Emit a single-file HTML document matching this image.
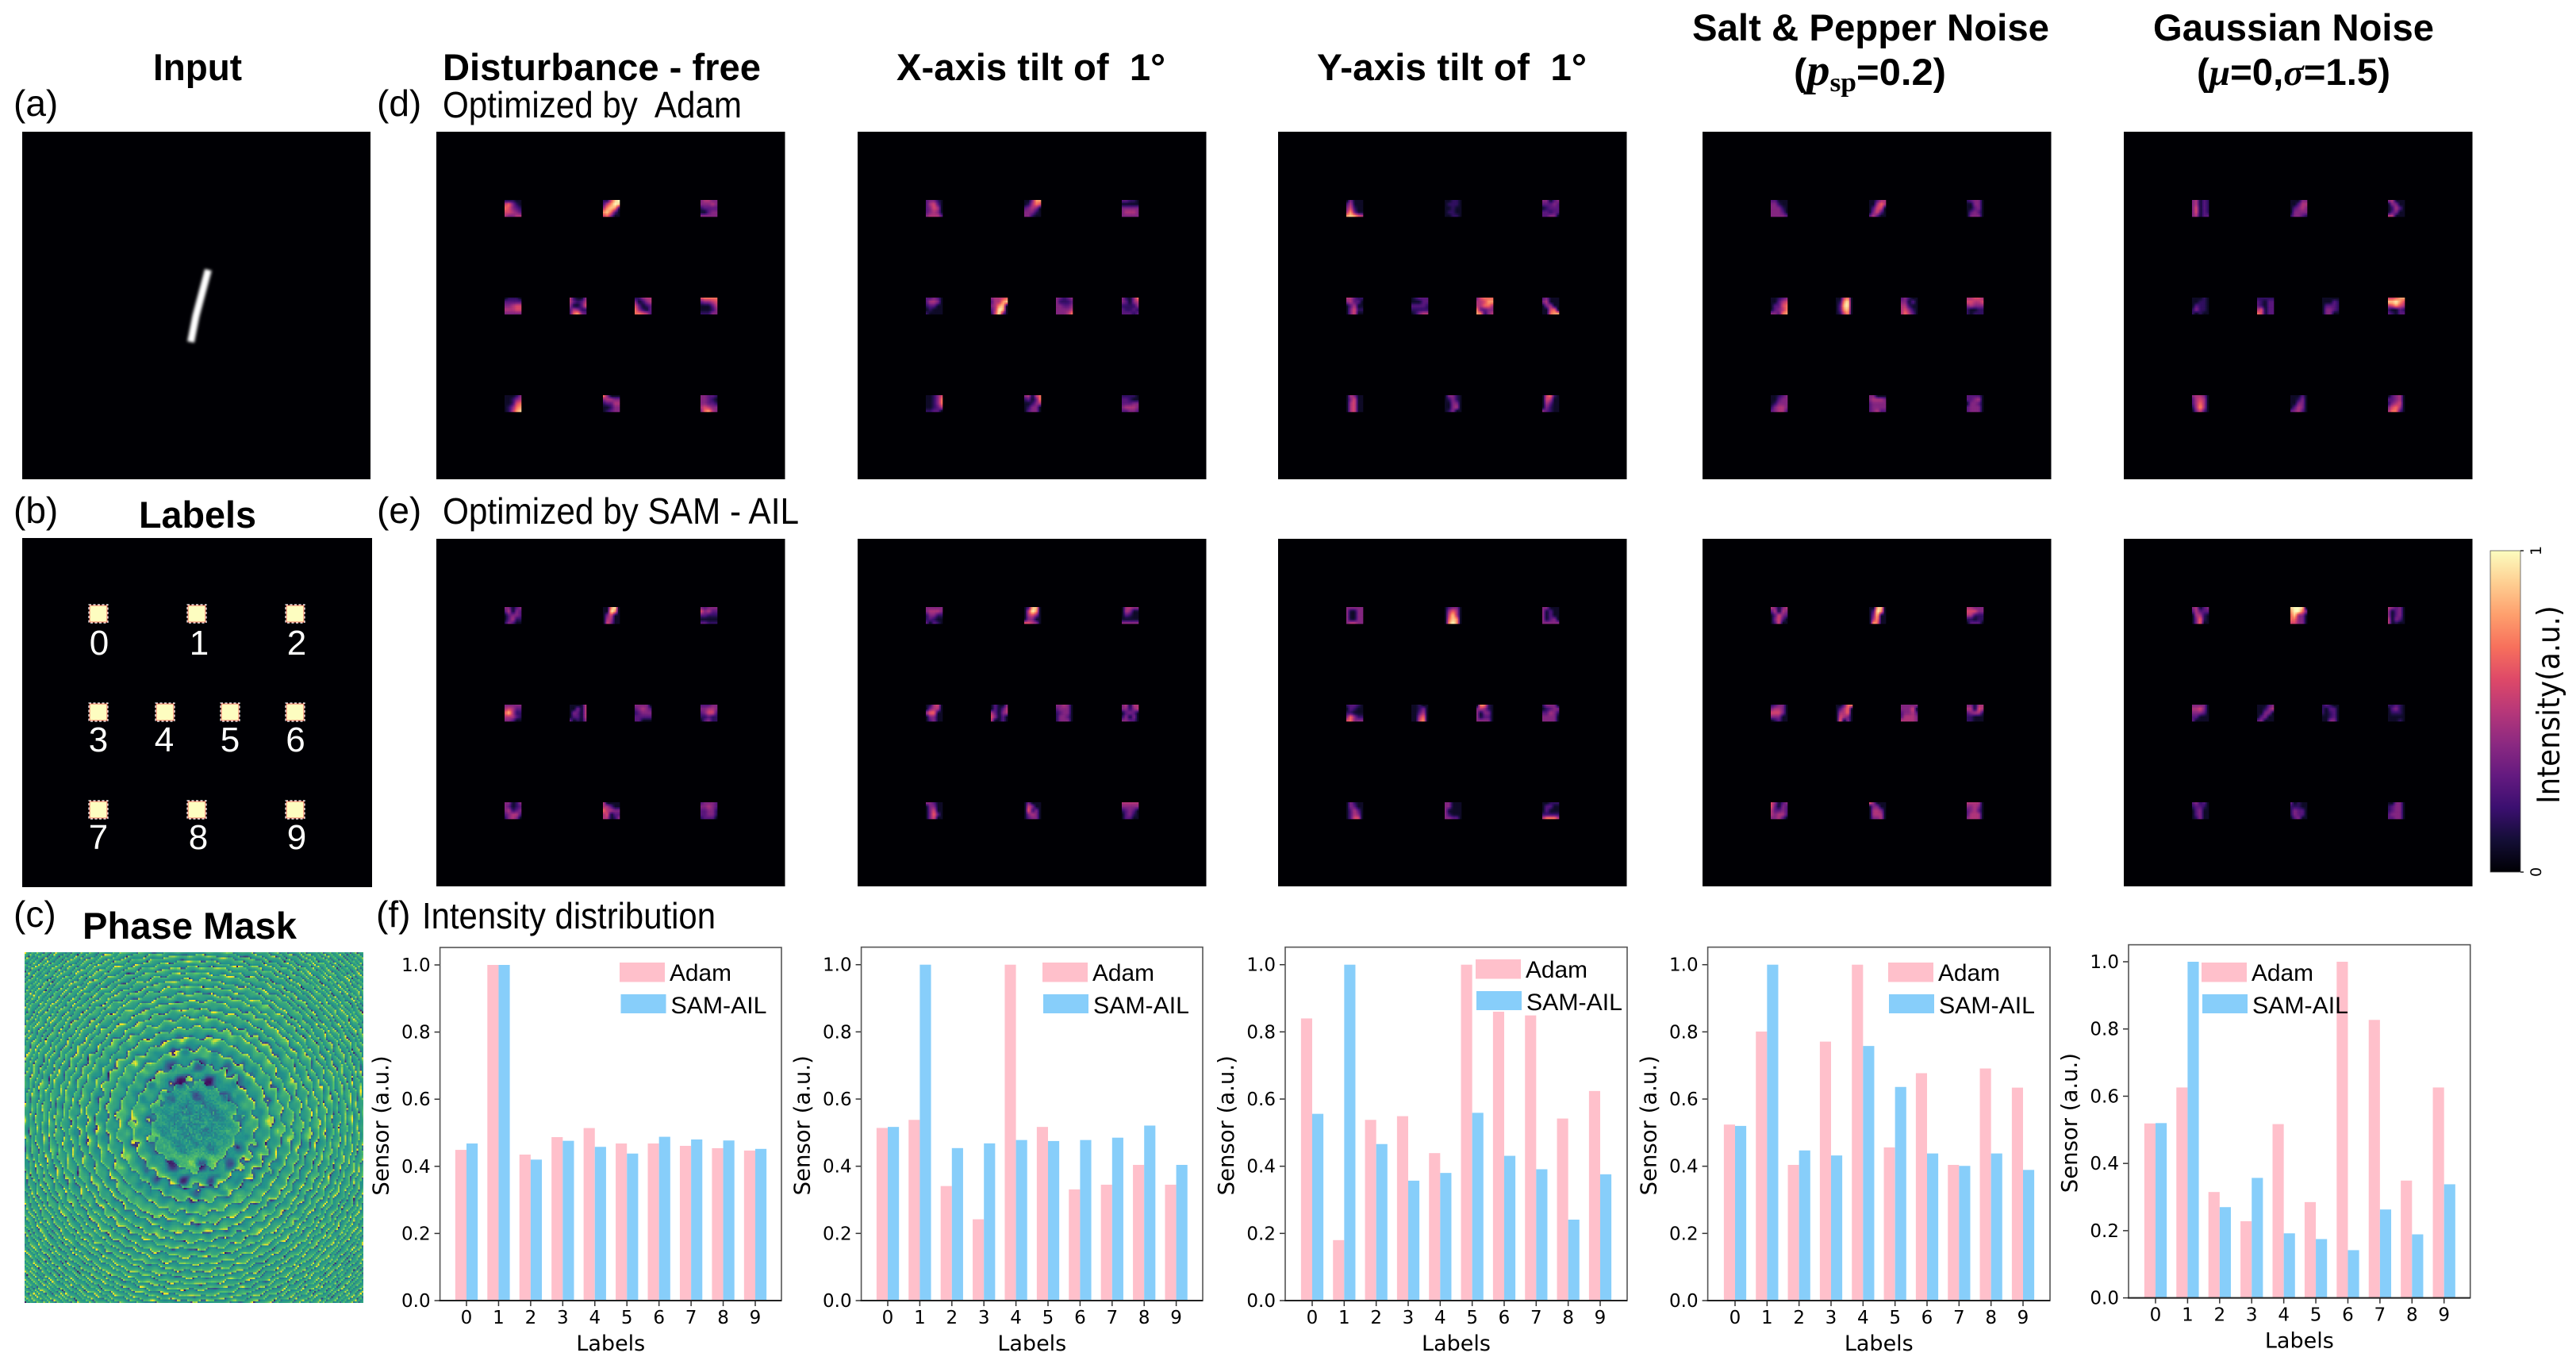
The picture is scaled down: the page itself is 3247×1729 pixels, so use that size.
<!DOCTYPE html>
<html lang="en">
<head>
<meta charset="utf-8">
<title>Intensity distribution under disturbances</title>
<style>
html,body{margin:0;padding:0;background:#fff;width:3247px;height:1729px;overflow:hidden}
#figure{position:absolute;left:0;top:0}
#phase-canvas{position:absolute;left:31px;top:1200px;width:427px;height:442px;image-rendering:pixelated}
text{font-family:"Liberation Sans",sans-serif;fill:#000}
.title{font-weight:bold;font-size:47px}
.sub{font-size:46px}
.dv{font-family:"DejaVu Sans",sans-serif}
.math{font-family:"Liberation Serif",serif;font-style:italic}
</style>
</head>
<body>
<svg id="figure" xmlns="http://www.w3.org/2000/svg" width="3247" height="1729" viewBox="0 0 3247 1729">
  <defs>
    <filter id="soft" x="-60%" y="-20%" width="220%" height="140%"><feGaussianBlur stdDeviation="1.8"/></filter>
    <linearGradient id="magma-gradient" x1="0" y1="1" x2="0" y2="0"></linearGradient>
  </defs>

  <text class="title" x="193" y="101" textLength="112" lengthAdjust="spacingAndGlyphs">Input</text>
  <text class="title" x="558" y="101" textLength="401" lengthAdjust="spacingAndGlyphs">Disturbance - free</text>
  <text class="title" x="1130" y="101" textLength="339" lengthAdjust="spacingAndGlyphs" xml:space="preserve">X-axis tilt of  1°</text>
  <text class="title" x="1660" y="101" textLength="340" lengthAdjust="spacingAndGlyphs" xml:space="preserve">Y-axis tilt of  1°</text>
  <text class="title" x="2133" y="51" textLength="450" lengthAdjust="spacingAndGlyphs">Salt &amp; Pepper Noise</text>
  <text class="title" x="2261" y="107" textLength="192" lengthAdjust="spacingAndGlyphs">(<tspan class="math" font-size="56">p</tspan><tspan class="math" style="font-style:normal" font-size="34" dy="8">sp</tspan><tspan dy="-8">=0.2)</tspan></text>
  <text class="title" x="2714" y="51" textLength="354" lengthAdjust="spacingAndGlyphs">Gaussian Noise</text>
  <text class="title" x="2769" y="107" textLength="244" lengthAdjust="spacingAndGlyphs">(<tspan class="math">μ</tspan>=0,<tspan class="math">σ</tspan>=1.5)</text>

  <text class="sub" x="17" y="146">(a)</text>
  <text class="sub" x="475" y="146">(d)</text>
  <text class="sub" x="558" y="148" textLength="377" lengthAdjust="spacingAndGlyphs" xml:space="preserve">Optimized by  Adam</text>
  <text class="sub" x="17" y="659">(b)</text>
  <text class="title" x="175" y="665" textLength="148" lengthAdjust="spacingAndGlyphs">Labels</text>
  <text class="sub" x="475" y="659">(e)</text>
  <text class="sub" x="558" y="660" textLength="449" lengthAdjust="spacingAndGlyphs">Optimized by SAM - AIL</text>
  <text class="sub" x="17" y="1168">(c)</text>
  <text class="title" x="104" y="1183" textLength="270" lengthAdjust="spacingAndGlyphs">Phase Mask</text>
  <text class="sub" x="474" y="1168">(f)</text>
  <text class="sub" x="532" y="1170" textLength="370" lengthAdjust="spacingAndGlyphs">Intensity distribution</text>

  <g>
    <rect x="28" y="166" width="439" height="438" fill="#000004"/>
    <path d="M262.5 340 L247 398 L240.5 431" fill="none" stroke="#fff" stroke-width="9" stroke-linecap="butt" stroke-linejoin="round" filter="url(#soft)"/>
  </g>

  <g id="labels-panel">
    <rect x="28" y="678" width="441" height="440" fill="#000004"/>
  </g>

  <g id="heatmaps"></g>
  <g id="charts"></g>

  <g>
    <rect x="3139" y="694" width="38" height="405" fill="url(#magma-gradient)" stroke="#555" stroke-width="0.8"/>
    <line x1="3177" y1="694" x2="3181" y2="694" stroke="#222" stroke-width="1.5"/>
    <line x1="3177" y1="1099" x2="3181" y2="1099" stroke="#222" stroke-width="1.5"/>
    <text class="dv" transform="translate(3203 694) rotate(-90)" text-anchor="middle" font-size="19">1</text>
    <text class="dv" transform="translate(3203 1099) rotate(-90)" text-anchor="middle" font-size="19">0</text>
    <text class="dv" transform="translate(3226 888) rotate(-90) scale(1 1.1)" text-anchor="middle" font-size="35.6">Intensity(a.u.)</text>
  </g>
</svg>
<canvas id="phase-canvas" width="200" height="207"></canvas>

<script>
/* ---------- bar chart data ---------- */
const categories = ['0','1','2','3','4','5','6','7','8','9'];
const yTickValues = [0, 0.2, 0.4, 0.6, 0.8, 1.0];
const yTickLabels = ['0.0','0.2','0.4','0.6','0.8','1.0'];
const seriesNames = ['Adam','SAM-AIL'];

const adamFree  = [0.449,1.000,0.435,0.487,0.514,0.468,0.468,0.461,0.454,0.447];
const samFree   = [0.468,1.000,0.420,0.476,0.458,0.438,0.488,0.480,0.477,0.452];
const adamXTilt = [0.514,0.538,0.341,0.242,1.000,0.517,0.331,0.345,0.404,0.345];
const samXTilt  = [0.517,1.000,0.454,0.468,0.478,0.475,0.478,0.485,0.521,0.404];
const adamYTilt = [0.840,0.180,0.538,0.549,0.439,1.000,0.860,0.849,0.542,0.624];
const samYTilt  = [0.556,1.000,0.466,0.357,0.380,0.559,0.431,0.391,0.241,0.376];
const adamSalt  = [0.524,0.801,0.404,0.771,1.000,0.456,0.677,0.404,0.691,0.634];
const samSalt   = [0.520,1.000,0.447,0.432,0.758,0.636,0.438,0.401,0.438,0.389];
const adamGauss = [0.519,0.626,0.315,0.228,0.517,0.285,1.000,0.827,0.349,0.626];
const samGauss  = [0.520,1.000,0.270,0.357,0.192,0.175,0.142,0.263,0.189,0.338];

/* ---------- heatmap data: one 5x5 intensity grid (0-9) per sensor region 0..9 ---------- */
const adamFreeHeat  = ["11100 56310 65321 55432 43344","11589 25798 47871 78620 56300","34433 33343 12222 00233 33333","01110 22222 33455 44455 33333","41003 42124 30025 24311 26732","11344 30134 52012 63102 66542","56666 23345 00024 00013 11133","00013 00134 00156 01367 01478","63000 34433 12244 00133 01233","33221 33210 33221 45433 36743"];
const adamXHeat     = ["23310 24520 23540 23430 34442","00377 01465 23430 33310 33100","22110 00000 33333 34443 33333","22320 24430 12200 01000 10000","34456 24478 34780 24980 15930","32123 31112 33223 33334 33346","31036 32034 11113 21121 22212","00135 00136 00136 00124 11220","34046 12026 00134 01330 02330","11110 22100 22233 34443 22332"];
const adamYHeat     = ["03000 24000 35100 47200 78754","00110 01110 00100 01100 00110","33023 22232 01222 22122 22330","44211 34220 02400 03511 03500","01222 00022 22221 11111 01344","35666 44577 44664 62233 76134","23000 34000 03400 00560 00677","04300 03500 04500 04500 04500","03310 01310 00330 00340 01300","05610 05400 04200 03100 32100"];
const adamSaltHeat  = ["22000 33100 33310 33320 33332","00244 00464 02550 03520 24200","12330 00330 00230 02320 03330","00123 00245 02256 02346 33267","00570 01790 02890 02780 01570","23100 33020 44100 45310 46420","44554 55445 34333 10011 10111","00123 00233 01333 13443 23442","33000 34443 23333 23333 23422","22220 22340 03320 23330 23330"];
const adamGaussHeat = ["34021 34021 35021 35021 34022","00033 00244 02343 03333 13321","34000 03300 01420 02300 44000","00010 00110 02110 13110 10100","11111 21022 21022 45022 65022","00000 00021 02221 03321 03300","55677 88975 45754 10021 21022","34430 24540 24640 14740 03520","00020 00130 00330 02430 23420","02340 22340 13450 35640 46620"];
const samFreeHeat   = ["33023 24032 02332 02411 13200","00790 00970 03500 04400 05300","32333 53422 22111 00000 22111","33333 45422 68411 44421 33200","00004 00304 03204 02204 20103","33330 23432 12333 22222 22000","22233 33443 23552 11211 02311","33013 32012 34123 23442 13430","40000 44200 64433 45022 44013","23332 33432 22331 22331 12220"];
const samXHeat      = ["33333 34443 13311 12100 20210","02880 05970 04530 03300 55430","04433 04300 02100 00000 33333","01450 03440 46600 03300 02300","02003 02024 42034 53020 40020","33430 23330 12330 13320 13330","34044 33134 02320 13030 33220","33200 03300 03500 03620 03500","03000 05300 06130 03430 02330","44444 33333 12320 02310 02200"];
const samYHeat      = ["33333 30033 30033 30033 34433","02330 04640 05840 06870 07970","33000 30200 30200 30230 33333","12210 02100 11000 36311 56333","00100 00130 00240 00460 00570","07610 34310 30330 30220 33330","13330 01233 22431 33330 33330","03100 03200 02420 02430 02550","33000 33000 30000 31000 33220","00111 02200 02000 11111 46664"];
const samSaltHeat   = ["43034 24043 02532 03520 02500","00880 02970 03800 04700 07600","44333 55533 44111 11011 02220","12330 34430 55530 33300 01200","00266 02460 04460 05430 06030","33333 33350 23342 24443 44443","33044 44054 23441 11000 11000","53023 52032 42232 43442 33420","53000 03300 04430 04440 03340","44440 33430 23420 24440 34440"];
const samGaussHeat  = ["34023 24222 04410 03610 03600","89980 79963 68330 66330 55330","43230 30230 30230 40320 40100","33330 44530 33320 22000 20000","00023 00134 00330 02300 23000","12100 10220 10120 00120 00330","11210 02310 01110 00000 00010","23120 12210 02300 02300 01300","20100 11100 13220 13220 02300","00330 12330 12330 23330 22330"];

/* ---------- colour maps ---------- */
const magmaStops = ['#000004','#140e36','#3b0f70','#641a80','#8c2981','#b73779','#de4968','#f7705c','#fe9f6d','#fecf92','#fcfdbf'];
const viridisStops = ['#440154','#3b528b','#21918c','#5ec962','#fde725'];

const NS = 'http://www.w3.org/2000/svg';
function make(tag, attrs, parent, text) {
  const node = document.createElementNS(NS, tag);
  for (const key in attrs) node.setAttribute(key, attrs[key]);
  if (text !== undefined) node.textContent = text;
  parent.appendChild(node);
  return node;
}
function hexToRgb(h) { return [parseInt(h.slice(1,3),16), parseInt(h.slice(3,5),16), parseInt(h.slice(5,7),16)]; }
function ramp(stops, t) {
  t = Math.max(0, Math.min(1, t));
  const p = t * (stops.length - 1), i = Math.min(Math.floor(p), stops.length - 2), f = p - i;
  const a = hexToRgb(stops[i]), b = hexToRgb(stops[i + 1]);
  return [a[0] + (b[0] - a[0]) * f, a[1] + (b[1] - a[1]) * f, a[2] + (b[2] - a[2]) * f].map(Math.round);
}

/* colourbar gradient */
const gradient = document.getElementById('magma-gradient');
magmaStops.forEach(function (color, i) {
  make('stop', { offset: i / (magmaStops.length - 1), 'stop-color': color }, gradient);
});

/* ---------- label panel ---------- */
const labelBoxX = [112, 236, 360, 112, 196, 278, 360, 112, 236, 360];
const labelBoxY = [762, 762, 762, 886, 886, 886, 886, 1009, 1009, 1009];
const labelDigitX = [125, 251, 374, 124, 207, 290, 372.5, 124, 250, 374];
const labelDigitY = [825, 825, 825, 947, 947, 947, 947, 1070, 1070, 1070];
const labelsPanel = document.getElementById('labels-panel');
categories.forEach(function (cat, i) {
  const box = make('rect', { x: labelBoxX[i] + 1, y: labelBoxY[i] + 1, width: 22, height: 21, fill: '#fdfdc0', stroke: '#ef6a5a', 'stroke-width': 1 }, labelsPanel);
  
  
  const dash = make('rect', { x: labelBoxX[i], y: labelBoxY[i], width: 24, height: 23, fill: 'none', stroke: '#fff', 'stroke-width': 1.2, 'stroke-dasharray': '3 2.5' }, labelsPanel);
  
  
  const digit = make('text', { x: labelDigitX[i], y: labelDigitY[i], 'text-anchor': 'middle', 'font-size': 44, style: 'fill:#fff' }, labelsPanel, cat);
  
  
});

/* ---------- heatmaps ---------- */
const panelLefts = [550, 1081, 1611, 2146, 2677];
const panelTops = [166, 679];
const panelNames = ['free', 'x-tilt', 'y-tilt', 'salt-pepper', 'gaussian'];
const rowNames = ['adam', 'sam-ail'];
const heatRows = [
  [adamFreeHeat, adamXHeat, adamYHeat, adamSaltHeat, adamGaussHeat],
  [samFreeHeat, samXHeat, samYHeat, samSaltHeat, samGaussHeat]
];
const regionX = [86, 210, 333, 86, 168, 250, 333, 86, 210, 333];
const regionY = [86, 86, 86, 209, 209, 209, 209, 332, 332, 332];
const REGION = 21, SUB = 10, FLOOR = 0.07;

function sampleGrid(grid, u, v) {
  const gx = u * 4, gy = v * 4;
  const x0 = Math.min(Math.floor(gx), 3), y0 = Math.min(Math.floor(gy), 3);
  const fx = gx - x0, fy = gy - y0;
  const top = grid[y0][x0] * (1 - fx) + grid[y0][x0 + 1] * fx;
  const bot = grid[y0 + 1][x0] * (1 - fx) + grid[y0 + 1][x0 + 1] * fx;
  return (top * (1 - fy) + bot * fy) / 9;
}
const heatRoot = document.getElementById('heatmaps');
heatRows.forEach(function (row, r) {
  row.forEach(function (regions, c) {
    const panel = make('g', {}, heatRoot);
    
    
    const bg = make('rect', { x: panelLefts[c], y: panelTops[r], width: 439.5, height: 438, fill: '#000004' }, panel);
    
    
    regions.forEach(function (src, k) {
      const grid = src.split(' ').map(function (line) { return line.split('').map(Number); });
      const px = panelLefts[c] + regionX[k], py = panelTops[r] + regionY[k], step = REGION / SUB;
      for (let j = 0; j < SUB; j++) {
        for (let i = 0; i < SUB; i++) {
          const val = FLOOR + (1 - FLOOR) * sampleGrid(grid, i / (SUB - 1), j / (SUB - 1));
          const rgb = ramp(magmaStops, val);
          const cell = make('rect', { x: px + i * step, y: py + j * step, width: step + 0.3, height: step + 0.3, fill: 'rgb(' + rgb.join(',') + ')' }, panel);
          
          
        }
      }
    });
  });
});

/* ---------- bar charts ---------- */
const chartAdam = [adamFree, adamXTilt, adamYTilt, adamSalt, adamGauss];
const chartSam = [samFree, samXTilt, samYTilt, samSalt, samGauss];
const frames = [
  { l: 554.6, r: 985, t: 1194, b: 1639, y1: 1216, x0: 588, x9: 952, ax: 781, ay: 1213, sx: 782.5, sy: 1253 },
  { l: 1085.6, r: 1516, t: 1193.6, b: 1639, y1: 1215.7, x0: 1119, x9: 1482.6, ax: 1314, ay: 1213, sx: 1315, sy: 1253 },
  { l: 1620, r: 2051, t: 1193.6, b: 1639, y1: 1215.7, x0: 1654, x9: 2017, ax: 1860, ay: 1209, sx: 1861, sy: 1249 },
  { l: 2152.6, r: 2584, t: 1193.6, b: 1639, y1: 1215.7, x0: 2187, x9: 2550, ax: 2380, ay: 1213, sx: 2381, sy: 1253 },
  { l: 2683, r: 3113.7, t: 1190.6, b: 1635.6, y1: 1212, x0: 2717, x9: 3080.7, ax: 2775, ay: 1213, sx: 2776, sy: 1253 }
];
const chartsRoot = document.getElementById('charts');

frames.forEach(function (f, c) {
  const adam = chartAdam[c], sam = chartSam[c];
  const xScale = function (i) { return f.x0 + i * (f.x9 - f.x0) / 9; };
  const yScale = function (v) { return f.b - v * (f.b - f.y1); };
  const barW = (f.x9 - f.x0) / 9 * 0.35;
  const g = make('g', {}, chartsRoot);
  
  

  categories.forEach(function (cat, i) {
    const a = make('rect', { x: xScale(i) - barW, y: yScale(adam[i]), width: barW, height: f.b - yScale(adam[i]), fill: '#ffc0cb' }, g);
    
    
    const s = make('rect', { x: xScale(i), y: yScale(sam[i]), width: barW, height: f.b - yScale(sam[i]), fill: '#87cefa' }, g);
    
    
    const tick = make('line', { x1: xScale(i), x2: xScale(i), y1: f.b, y2: f.b + 7, stroke: '#333', 'stroke-width': 1.5 }, g);
    
    
    const lab = make('text', { x: xScale(i), y: f.b + 29, 'text-anchor': 'middle', 'font-size': 23, class: 'dv' }, g, cat);
    
    
  });

  yTickValues.forEach(function (v, i) {
    const tick = make('line', { x1: f.l - 7, x2: f.l, y1: yScale(v), y2: yScale(v), stroke: '#333', 'stroke-width': 1.5 }, g);
    
    
    const lab = make('text', { x: f.l - 12, y: yScale(v) + 8, 'text-anchor': 'end', 'font-size': 23, class: 'dv' }, g, yTickLabels[i]);
    
    
  });

  const frame = make('rect', { x: f.l, y: f.t, width: f.r - f.l, height: f.b - f.t, fill: 'none', stroke: '#555', 'stroke-width': 1.6 }, g);
  
  
  const base = make('line', { x1: f.l - 1, x2: f.r, y1: f.b, y2: f.b, stroke: '#222', 'stroke-width': 2 }, g);
  
  

  const xTitle = make('text', { x: (f.l + f.r) / 2, y: f.b + 63, 'text-anchor': 'middle', 'font-size': 27, class: 'dv' }, g, 'Labels');
  
  
  const yTitle = make('text', { transform: 'translate(' + (f.l - 65) + ' ' + ((f.t + f.b) / 2 + 2) + ') rotate(-90)', 'text-anchor': 'middle', 'font-size': 27.5, class: 'dv' }, g, 'Sensor (a.u.)');
  
  

  const sw1 = make('rect', { x: f.ax, y: f.ay, width: 57, height: 24.5, fill: '#ffc0cb' }, g);
  
  
  const t1 = make('text', { x: f.ax + 63, y: f.ay + 23, 'font-size': 30, textLength: 78, lengthAdjust: 'spacingAndGlyphs' }, g, seriesNames[0]);
  
  
  const sw2 = make('rect', { x: f.sx, y: f.sy, width: 57, height: 24, fill: '#87cefa' }, g);
  
  
  const t2 = make('text', { x: f.sx + 63, y: f.sy + 24, 'font-size': 30, textLength: 121, lengthAdjust: 'spacingAndGlyphs' }, g, seriesNames[1]);
  
  
});

/* ---------- phase mask texture (lens-like wrapped phase with broken dashes) ---------- */
(function () {
  const cv = document.getElementById('phase-canvas');
  const ctx = cv.getContext('2d');
  const W = cv.width, H = cv.height, PX = 427 / W, PY = 442 / H;
  const cx = 213, cy = 217;
  const frac = function (x) { return x - Math.floor(x); };
  const mottle = function (x, y) { return frac(Math.sin(x * 12.9898 + y * 78.233) * 43758.5453); };
  const smooth = function (a, b, x) { const t = Math.max(0, Math.min(1, (x - a) / (b - a))); return t * t * (3 - 2 * t); };
  for (let j = 0; j < H; j++) {
    for (let i = 0; i < W; i++) {
      const x = i * PX - cx, y = j * PY - cy;
      const r = Math.sqrt(x * x + y * y);
      const rings = 0.000325 * r * r;
      const jitter = 0.14 * (mottle(Math.floor(i / 5), Math.floor(j / 4)) - 0.5);
      const wiggle = 0.13 * Math.sin(0.31 * x + 0.17 * y + 1.2 * Math.sin(0.023 * y)) + 0.13 * Math.sin(0.27 * y - 0.21 * x + 1.3 + 1.1 * Math.sin(0.019 * x));
      const s = frac(rings + wiggle + jitter);
      let val;
      if (s < 0.11) val = 0.16 + s * 2.4;
      else if (s < 0.78) val = 0.46 + (s - 0.11) * 0.3;
      else val = 0.66 + (s - 0.78) * 1.4;
      /* dashes: the fringe contrast fades periodically along each ring */
      const dash = 0.5 + 0.5 * Math.sin(0.25 * x + 1.4 * Math.sin(0.05 * y)) * Math.sin(0.25 * y + 1.4 * Math.sin(0.05 * x) + 0.7);
      val = 0.53 + (val - 0.53) * (0.4 + 0.9 * dash);
      /* calmer, mottled centre blending gradually into the rings */
      const w = 0.8 * (1 - smooth(18, 82, r));
      const soft = 0.49 + 0.2 * (mottle(i, j) - 0.5) + 0.07 * Math.sin(x * 0.22 + 1) * Math.sin(y * 0.19);
      val = val * (1 - w) + soft * w;
      /* scattered dark spots in an arc around the centre, brighter lower crescent */
      const arc = Math.exp(-((r - 62) * (r - 62)) / (2 * 20 * 20));
      const spots = Math.max(0, Math.sin(0.17 * x + 0.8 + 0.8 * Math.sin(y * 0.09)) * Math.sin(0.15 * y + 0.4));
      const vertical = (y * y) / (r * r + 1);
      val -= 0.55 * arc * spots * vertical;
      if (y > 0) val += 0.13 * Math.exp(-((r - 42) * (r - 42)) / (2 * 11 * 11)) * vertical;
      const rgb = ramp(viridisStops, val);
      ctx.fillStyle = 'rgb(' + rgb.join(',') + ')';
      ctx.fillRect(i, j, 1, 1);
    }
  }
})();
</script>
</body>
</html>
